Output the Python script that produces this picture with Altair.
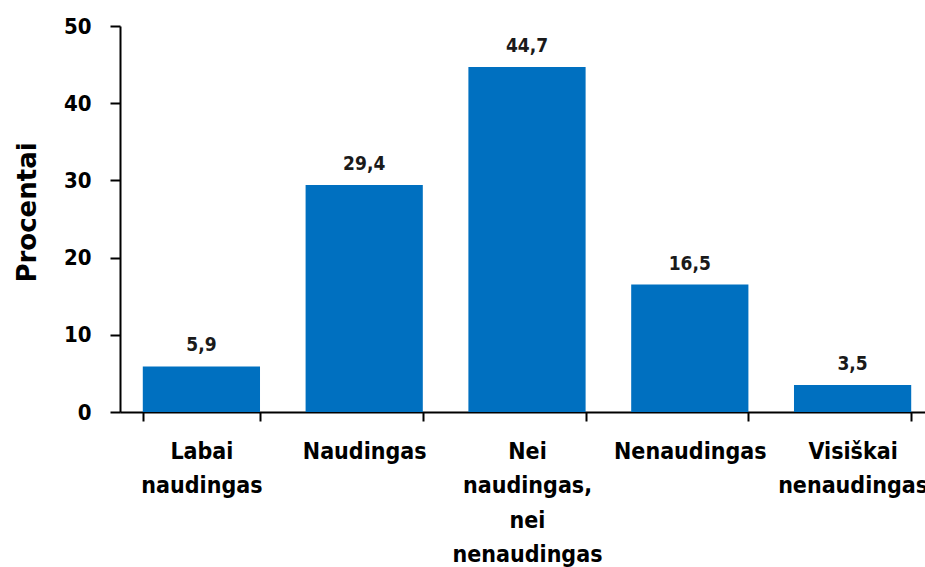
import altair as alt
import pandas as pd

# Survey answers and their shares (percent)
categories = [
    "Labai\nnaudingas",
    "Naudingas",
    "Nei\nnaudingas,\nnei\nnenaudingas",
    "Nenaudingas",
    "Visiškai\nnenaudingas",
]
shares = [5.9, 29.4, 44.7, 16.5, 3.5]
y_ticks = [0, 10, 20, 30, 40, 50]

df = pd.DataFrame({"category": categories, "share": shares})

COND = "DejaVu Sans Condensed, DejaVu Sans"
BLUE = "#0070C0"

x_enc = alt.X(
    "category:N",
    sort=categories,
    scale=alt.Scale(paddingInner=0.28, paddingOuter=0.14, range=[0, 814]),
    axis=alt.Axis(
        title=None,
        labelAngle=0,
        labelExpr="split(datum.label, '\\n')",
        labelFont=COND,
        labelFontSize=23,
        labelFontWeight="bold",
        labelColor="#000000",
        labelLineHeight=34.5,
        labelPadding=19,
        labelBaseline="top",
        labelOverlap=False,
        tickSize=9,
        tickBand="extent",
    ),
)

y_enc = alt.Y(
    "share:Q",
    scale=alt.Scale(domain=[0, 50], nice=False),
    axis=alt.Axis(
        title="Procentai",
        values=y_ticks,
        grid=False,
        tickSize=10,
        labelPadding=19,
        labelFont=COND,
        labelFontSize=22,
        labelFontWeight="bold",
        labelColor="#000000",
        titleFont="DejaVu Sans",
        titleFontSize=26,
        titleFontWeight="bold",
        titleColor="#000000",
        titleAngle=270,
        titleAlign="center",
        titleBaseline="alphabetic",
        titleX=-85,
        titleY=186,
    ),
)

bars = alt.Chart(df).mark_bar(color=BLUE).encode(x=x_enc, y=y_enc)

labels = (
    alt.Chart(df)
    .transform_calculate(txt="replace(format(datum.share, '.1f'), '.', ',')")
    .mark_text(
        baseline="alphabetic",
        align="center",
        dy=-15,
        font=COND,
        fontSize=19,
        fontWeight="bold",
        color="#1a1a1a",
    )
    .encode(x=alt.X("category:N", sort=categories), y="share:Q", text="txt:N")
)

chart = (
    alt.layer(bars, labels)
    .properties(
        width=805,
        height=386,
        autosize=alt.AutoSizeParams(type="none"),
        padding={"left": 120, "top": 26, "right": 0, "bottom": 155},
        background="white",
    )
    .configure_view(stroke=None)
    .configure_axis(
        domainColor="#000000",
        domainWidth=2,
        tickColor="#000000",
        tickWidth=2,
    )
)

chart.save("out.html", embed_options={"renderer": "svg", "actions": False})
